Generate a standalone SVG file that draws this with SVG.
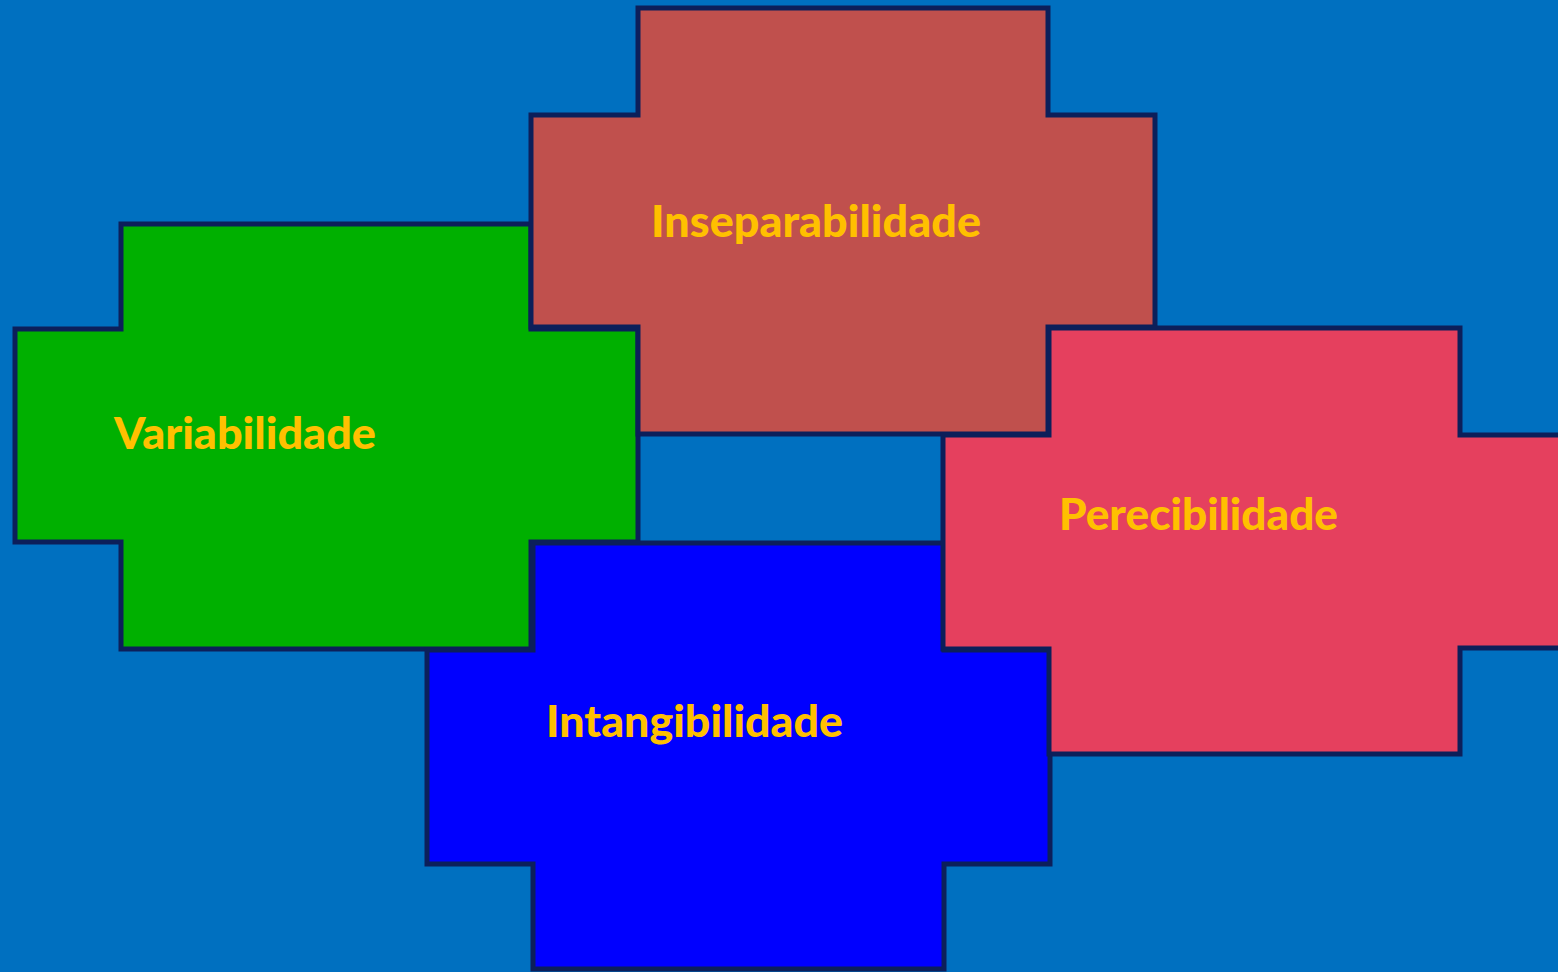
<svg xmlns="http://www.w3.org/2000/svg" width="1558" height="972" viewBox="0 0 1558 972">
<style>
.shape{stroke:#0C1F5A;stroke-width:5;stroke-linejoin:miter}
.lbl{font-family:Lato,"Open Sans","Liberation Sans",sans-serif;font-weight:900;font-size:43px;fill:#FFC000}
</style>
<rect width="1558" height="972" fill="#0070C0"/>
<g id="variabilidade">
<polygon class="shape" fill="#00B000" points="121,224 531,224 531,329 638,329 638,542 531,542 531,649 121,649 121,542 15,542 15,329 121,329"/>
<text class="lbl" x="114" y="449" textLength="262" lengthAdjust="spacingAndGlyphs">Variabilidade</text>
</g>
<g id="intangibilidade">
<polygon class="shape" fill="#0000FF" points="533,543 944,543 944,650 1050,650 1050,864 944,864 944,969 533,969 533,864 427,864 427,650 533,650"/>
<text class="lbl" x="546" y="737" textLength="297" lengthAdjust="spacingAndGlyphs">Intangibilidade</text>
</g>
<g id="inseparabilidade">
<polygon class="shape" fill="#C0504D" points="638,8 1048,8 1048,115 1155,115 1155,327 1048,327 1048,434 638,434 638,327 531,327 531,115 638,115"/>
<text class="lbl" x="651" y="237" textLength="330" lengthAdjust="spacingAndGlyphs">Inseparabilidade</text>
</g>
<g id="perecibilidade">
<polygon class="shape" fill="#E5405E" points="1049,328 1460,328 1460,435 1565,435 1565,648 1460,648 1460,754 1049,754 1049,649 943,649 943,435 1049,435"/>
<text class="lbl" x="1059" y="530" textLength="279" lengthAdjust="spacingAndGlyphs">Perecibilidade</text>
</g>
<g id="connectors"/>
</svg>
